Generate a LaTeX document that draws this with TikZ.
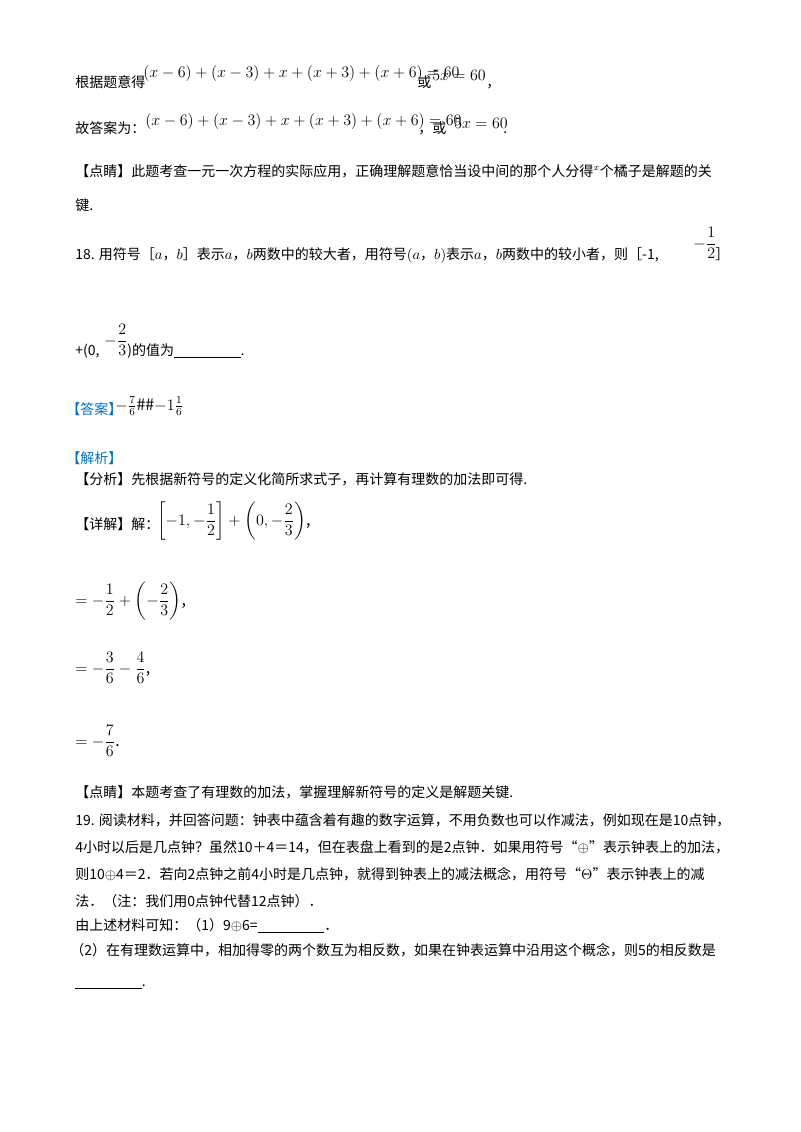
\documentclass[tikz,border=0pt]{standalone}
\usepackage{amsmath}
\usepackage{fontspec}
\setmainfont{Noto Sans CJK SC}
\definecolor{ansblue}{RGB}{0,112,192}
\begin{document}
\begin{tikzpicture}[x=0.75pt,y=-0.75pt,
  ln/.style={anchor=base west,inner sep=0pt,font=\fontsize{10.5}{12}\selectfont},
  mth/.style={anchor=base west,inner sep=0pt,font=\fontsize{12}{14}\selectfont}]
\useasboundingbox (0,0) rectangle (800,1132);
\node[ln] (l1) at (75,87) {根据题意得};
\node[mth] (e1) at (143,77) {$(x-6)+(x-3)+x+(x+3)+(x+6)=60$};
\node[ln] (l1b) at (417,87) {或};
\node[mth] (e1b) at (432,80) {$5x=60$};
\node[ln] (l1c) at (486,87) {，};
\node[ln] (l2) at (75,133) {故答案为：};
\node[mth] (e2) at (145,125) {$(x-6)+(x-3)+x+(x+3)+(x+6)=60$};
\node[ln] (l2b) at (418,133) {，或};
\node[mth] (e2b) at (454,128) {$5x=60$};
\node[ln] (l2c) at (503,133) {.};
\node[ln] (l3) at (75,176) {【点睛】此题考查一元一次方程的实际应用，正确理解题意恰当设中间的那个人分得$^x$个橘子是解题的关};
\node[ln] (l4) at (75,210) {键.};
\node[ln] (l5) at (75,259) {18. 用符号［$a$，$b$］表示$a$，$b$两数中的较大者，用符号$(a$，$b)$表示$a$，$b$两数中的较小者，则［-1,};
\node[mth] (f1) at (693,248) {$-\dfrac{1}{2}$};
\node[ln] (l5b) at (715,259) {］};
\node[ln] (l6) at (75,355) {+(0,};
\node[mth] (f2) at (104,345) {$-\dfrac{2}{3}$};
\node[ln] (l6b) at (127,355) {)的值为\underline{\hspace{50pt}}.};
\node[ln,text=ansblue] (l7) at (66,414) {【答案】};
\node[mth] (a1) at (115,410) {$-\frac{7}{6}$\#\#$-1\frac{1}{6}$};
\node[ln,text=ansblue] (l8) at (66,463) {【解析】};
\node[ln] (l9) at (75,484) {【分析】先根据新符号的定义化简所求式子，再计算有理数的加法即可得.};
\node[ln] (l10) at (75,529) {【详解】解：};
\node[mth] (d1) at (157,525) {$\left[-1,-\dfrac{1}{2}\right]+\left(0,-\dfrac{2}{3}\right)$,};
\node[mth] (d2) at (75,605) {$=-\dfrac{1}{2}+\left(-\dfrac{2}{3}\right)$,};
\node[mth] (d3) at (75,673) {$=-\dfrac{3}{6}-\dfrac{4}{6}$,};
\node[mth] (d4) at (75,746) {$=-\dfrac{7}{6}$.};
\node[ln] (l11) at (75,797) {【点睛】本题考查了有理数的加法，掌握理解新符号的定义是解题关键.};
\node[ln] (l12) at (75,825) {19. 阅读材料，并回答问题：钟表中蕴含着有趣的数字运算，不用负数也可以作减法，例如现在是10点钟，};
\node[ln] (l13) at (75,852) {4小时以后是几点钟？虽然10＋4＝14，但在表盘上看到的是2点钟．如果用符号“$\oplus$”表示钟表上的加法，};
\node[ln] (l14) at (75,879) {则10$\oplus$4＝2．若向2点钟之前4小时是几点钟，就得到钟表上的减法概念，用符号“$\Theta$”表示钟表上的减};
\node[ln] (l15) at (75,906) {法．（注：我们用0点钟代替12点钟）．};
\node[ln] (l16) at (75,930) {由上述材料可知：（1）9$\oplus$6=\underline{\hspace{50pt}}．};
\node[ln] (l17) at (70,955) {（2）在有理数运算中，相加得零的两个数互为相反数，如果在钟表运算中沿用这个概念，则5的相反数是};
\node[ln] (l18) at (75,986) {\underline{\hspace{50pt}}.};
\end{tikzpicture}
\end{document}
